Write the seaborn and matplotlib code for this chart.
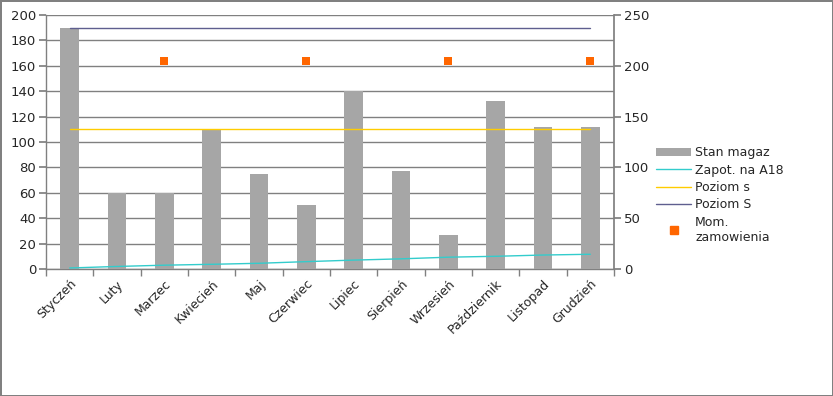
import matplotlib
matplotlib.use("Agg")
import matplotlib.pyplot as plt
import seaborn as sns
import pandas as pd
import numpy as np
from matplotlib.patches import Patch
from matplotlib.lines import Line2D

months = ["Styczeń", "Luty", "Marzec", "Kwiecień", "Maj", "Czerwiec", "Lipiec",
          "Sierpień", "Wrzesień", "Październik", "Listopad", "Grudzień"]
stan_magaz = [190, 60, 60, 110, 75, 50.5, 140, 77, 27, 132.5, 112, 112]
zapot_a18 = [0.8, 2.0, 3.0, 3.7, 4.5, 5.8, 7.0, 8.0, 9.3, 10.0, 11.0, 11.6]
poziom_s = [110] * 12
poziom_S = [190] * 12
mom_zam_months = ["Marzec", "Czerwiec", "Wrzesień", "Grudzień"]
mom_zam_values = [164, 164, 164, 164]

sns.set_theme(style="white")
plt.rcParams['font.family'] = ['DejaVu Sans']

fig = plt.figure(figsize=(8.33, 3.96), dpi=100)
fig.patch.set_edgecolor("#808080")
fig.patch.set_linewidth(2)
ax = fig.add_axes([46/833, 1-269/396, 568/833, 254/396])

df = pd.DataFrame({"month": months, "stan": stan_magaz})
sns.barplot(data=df, x="month", y="stan", order=months, color="#a6a6a6",
            width=0.4, saturation=1, ax=ax, zorder=3, linewidth=0, edgecolor="none")

xs = np.arange(len(months))
ax.plot(xs, zapot_a18, color="#33cccc", lw=1, zorder=4)
ax.plot(xs, poziom_s, color="#ffcc00", lw=1, zorder=4)
ax.plot(xs, poziom_S, color="#5f5f8f", lw=1, zorder=4)
mx = [months.index(m) for m in mom_zam_months]
ax.scatter(mx, mom_zam_values, marker="s", s=40, color="#ff6600", zorder=5, linewidths=0)

ax.set_xlim(-0.5, 11.5)
ax.set_ylim(0, 200)
ax.set_yticks(range(0, 201, 20))
ax.yaxis.grid(True, color="#808080", lw=1, zorder=0)
ax.set_axisbelow(True)
ax.set_xlabel("")
ax.set_ylabel("")
for s in ["top", "right"]:
    ax.spines[s].set_visible(False)
for s in ["left", "bottom"]:
    ax.spines[s].set_color("#808080")
    ax.spines[s].set_linewidth(1)

ax.set_xticks(xs)
ax.set_xticklabels(months, rotation=45, ha="right", rotation_mode="anchor", fontsize=9)
ax.tick_params(axis="x", length=0, pad=6)
ax.set_xticks(np.arange(-0.5, 12, 1), minor=True)
ax.tick_params(axis="x", which="minor", length=5, color="#808080", bottom=True)
ax.tick_params(axis="y", length=5, color="#808080", left=True, labelsize=9.5, pad=2)

ax2 = ax.twinx()
ax2.set_ylim(0, 250)
ax2.set_yticks(range(0, 251, 50))
ax2.tick_params(axis="y", length=5, color="#808080", right=True, labelsize=9.5, pad=2)
for s in ["top", "left", "bottom"]:
    ax2.spines[s].set_visible(False)
ax2.spines["right"].set_color("#808080")
ax2.grid(False)

handles = [
    Patch(facecolor="#a6a6a6", edgecolor="none"),
    Line2D([], [], color="#33cccc", lw=1),
    Line2D([], [], color="#ffcc00", lw=1),
    Line2D([], [], color="#5f5f8f", lw=1),
    Line2D([], [], color="#ff6600", marker="s", ls="none", markersize=6),
]
labels = ["Stan magaz", "Zapot. na A18", "Poziom s", "Poziom S", "Mom.\nzamowienia"]
fig.legend(handles, labels, loc="upper left", bbox_to_anchor=(650/833, 1-140/396),
           frameon=False, fontsize=9, handlelength=2.8, handleheight=0.7,
           labelspacing=0.35, borderpad=0, handletextpad=0.3)

fig.savefig("out.png", dpi=100)
